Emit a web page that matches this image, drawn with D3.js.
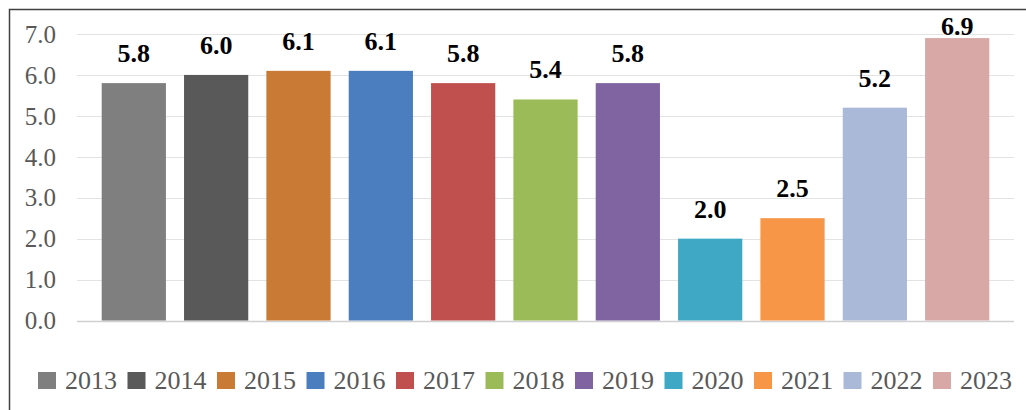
<!DOCTYPE html>
<html>
<head>
<meta charset="utf-8">
<script src="https://cdn.jsdelivr.net/npm/d3@7/dist/d3.min.js"></script>
<style>
html,body{margin:0;padding:0;background:#fff;}
svg{display:block;}
</style>
</head>
<body>
<svg id="chart" width="1026" height="410" font-family="Liberation Serif"></svg>
<script>
const years = ["2013","2014","2015","2016","2017","2018","2019","2020","2021","2022","2023"];
const values = [5.8, 6.0, 6.1, 6.1, 5.8, 5.4, 5.8, 2.0, 2.5, 5.2, 6.9];
const colors = ["#7f7f7f","#595959","#c97b36","#4a7ebf","#c0504d","#9bbb59","#8064a2","#3fa9c5","#f79646","#aab9d8","#d8a8a7"];
const yTicks = [0,1,2,3,4,5,6,7];

const FONT = "Liberation Serif";
const svg = d3.select("#chart");
const W = 1026, H = 410;
svg.append("rect").attr("width", W).attr("height", H).attr("fill", "#fff");

const plotL = 77, plotR = 1014;
const x = d3.scaleBand().domain(years).range([plotL, plotR]).paddingInner(0.22).paddingOuter(0.3);
const y = d3.scaleLinear().domain([0, 7]).range([320.5, 34]);

// gridlines
svg.append("g").selectAll("line").data(yTicks).join("line")
  .attr("x1", plotL).attr("x2", plotR)
  .attr("y1", d => Math.round(y(d)) + 0.5).attr("y2", d => Math.round(y(d)) + 0.5)
  .attr("stroke", d => d === 0 ? "#d0d0d0" : "#e3e3e3").attr("stroke-width", d => d === 0 ? 1.5 : 1.2);

// y axis labels
const yAxis = d3.axisLeft(y).tickValues(yTicks).tickFormat(d3.format(".1f")).tickSize(0).tickPadding(0);
const ga = svg.append("g").attr("transform", `translate(56,0)`).call(yAxis);
ga.attr("font-family", FONT).attr("font-size", 25);
ga.select(".domain").remove();
ga.selectAll("text").attr("font-family", FONT)
  .attr("font-size", 25).attr("fill", "#595959").attr("dy", "0.33em");

// bars
svg.append("g").selectAll("rect").data(years).join("rect")
  .attr("x", d => x(d)).attr("width", x.bandwidth())
  .attr("y", (d, i) => y(values[i])).attr("height", (d, i) => y(0) - y(values[i]))
  .attr("fill", (d, i) => colors[i]);

// value labels
svg.append("g").selectAll("text").data(years).join("text")
  .attr("x", d => x(d) + x.bandwidth() / 2)
  .attr("y", (d, i) => Math.max(y(values[i]) - 21, 35))
  .attr("text-anchor", "middle")
  .attr("font-family", FONT)
  .attr("font-weight", "bold").attr("font-size", 26).attr("fill", "#000")
  .text((d, i) => d3.format(".1f")(values[i]));

// legend
const lx = d3.scalePoint().domain(years).range([38, 933]);
const lg = svg.append("g").selectAll("g").data(years).join("g")
  .attr("transform", d => `translate(${lx(d)},372)`);
lg.append("rect").attr("width", 18).attr("height", 17).attr("fill", (d, i) => colors[i]);
lg.append("text").attr("x", 27).attr("y", 17)
  .attr("font-family", FONT)
  .attr("font-size", 26).attr("fill", "#595959").text(d => d);

// border
svg.append("rect").attr("x", 9.5).attr("y", 9.5).attr("width", 1030).attr("height", 420)
  .attr("fill", "none").attr("stroke", "#404040").attr("stroke-width", 1.5);
</script>
</body>
</html>
